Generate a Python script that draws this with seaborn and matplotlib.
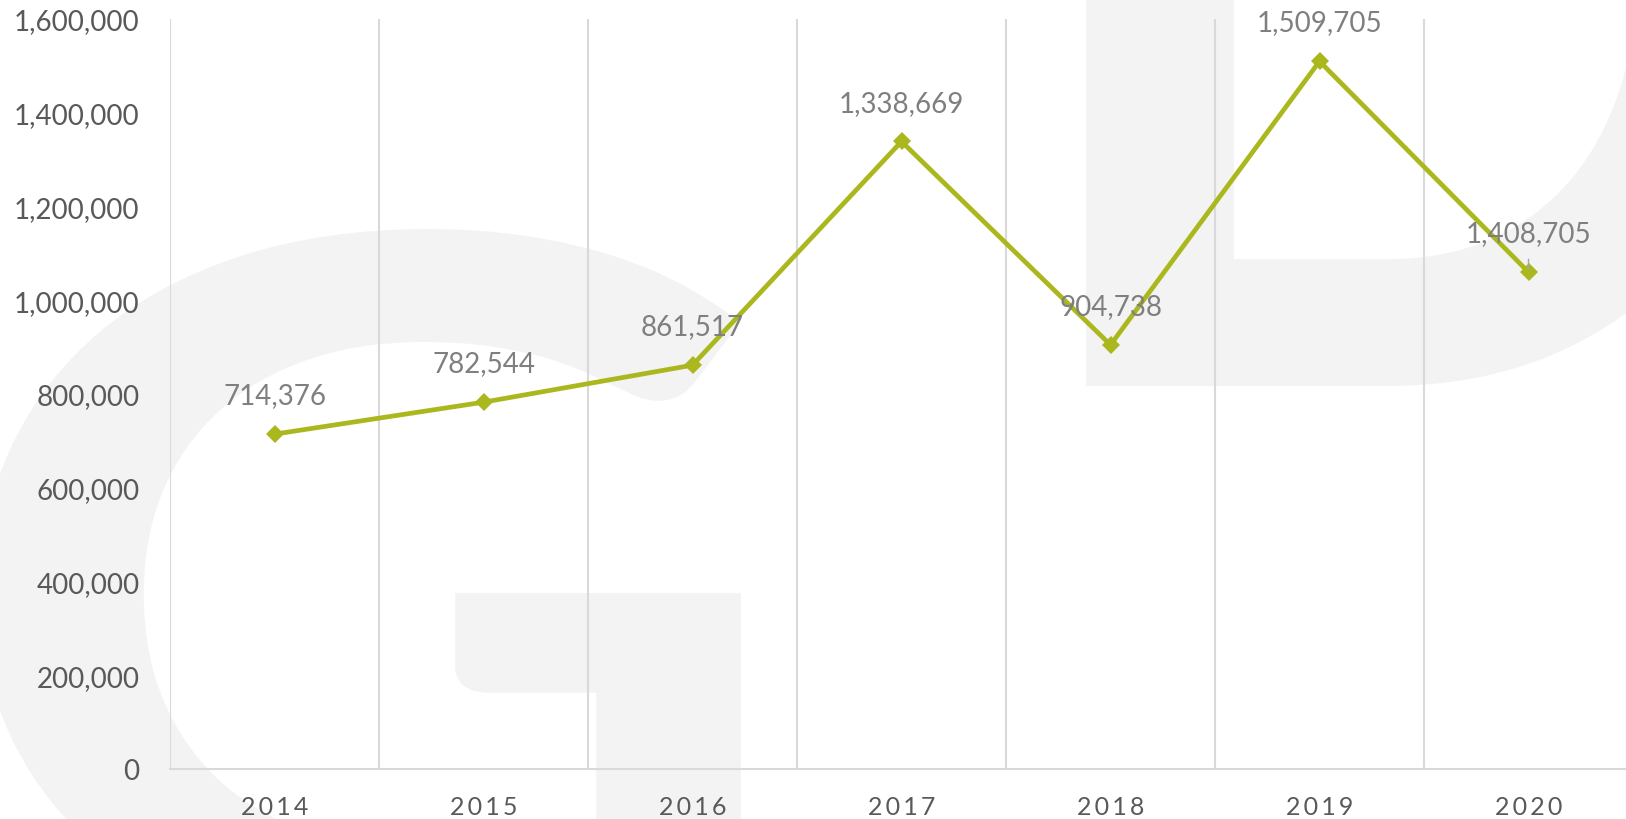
import numpy as np
import pandas as pd
import matplotlib
matplotlib.use("Agg")
import matplotlib.pyplot as plt
import seaborn as sns
from matplotlib.textpath import TextPath
from matplotlib.font_manager import FontProperties
from matplotlib.patches import PathPatch
from matplotlib.transforms import Affine2D
from matplotlib.ticker import FuncFormatter

# Chart data
years = ["2014", "2015", "2016", "2017", "2018", "2019", "2020"]
values = [714376, 782544, 861517, 1338669, 904738, 1509705, 1060000]
labels = ["714,376", "782,544", "861,517", "1,338,669", "904,738", "1,509,705", "1,408,705"]
y_ticks = [0, 200000, 400000, 600000, 800000, 1000000, 1200000, 1400000, 1600000]

LINE_COLOR = "#AAB81E"
GRID_COLOR = "#D9D9D9"
TICK_COLOR = "#595959"
LABEL_COLOR = "#7F7F7F"
MARK_COLOR = "#F3F3F3"

W, H = 1626, 820

sns.set_theme(style="white")
plt.rcParams["font.family"] = ["Lato", "DejaVu Sans"]

fig = plt.figure(figsize=(W / 100, H / 100), dpi=100)
fig.patch.set_facecolor("white")


def add_letter(letter, x0, x1, ytop, ybot):
    # faint background letter, fitted to a box given in pixels
    tp = TextPath((0, 0), letter, size=100, prop=FontProperties(family="Lato", weight="bold"))
    ext = tp.get_extents()
    fx0, fx1 = x0 / W, x1 / W
    fy_top, fy_bot = 1 - ytop / H, 1 - ybot / H
    tr = (Affine2D().translate(-ext.x0, -ext.y0)
          .scale((fx1 - fx0) / ext.width, (fy_top - fy_bot) / ext.height)
          .translate(fx0, fy_bot))
    patch = PathPatch(tr.transform_path(tp), facecolor=MARK_COLOR, edgecolor="none",
                      transform=fig.transFigure, zorder=-1)
    fig.add_artist(patch)


add_letter("G", -20, 741, 230, 960)
add_letter("D", 1086, 1790, -470, 387)

ax = fig.add_axes([170 / W, 50 / H, 1463 / W, 750 / H])
ax.set_facecolor("none")

df = pd.DataFrame({"year": years, "value": values})
sns.lineplot(data=df, x="year", y="value", ax=ax, sort=False, color=LINE_COLOR,
             linewidth=3.4, marker="D", markersize=9, markeredgewidth=0, zorder=3)

ax.set_xlim(-0.5, len(years) - 0.5)
ax.set_ylim(0, 1600000)
ax.set_yticks(y_ticks)
ax.yaxis.set_major_formatter(FuncFormatter(lambda v, p: f"{int(v):,}"))
# spaced-out year labels
ax.set_xticks(range(len(years)))
ax.set_xticklabels(["\u2009".join(y) for y in years])

# vertical gridlines between categories
ax.set_xticks(np.arange(-0.5, len(years), 1), minor=True)
ax.grid(False)
ax.grid(True, which="minor", axis="x", color=GRID_COLOR, linewidth=1.5)
ax.tick_params(which="both", length=0)
ax.tick_params(axis="y", labelsize=20, labelcolor=TICK_COLOR, pad=22)
ax.tick_params(axis="x", labelsize=18, labelcolor=TICK_COLOR, pad=19)

for side in ["top", "right", "left"]:
    ax.spines[side].set_visible(False)
ax.spines["bottom"].set_color(GRID_COLOR)
ax.spines["bottom"].set_linewidth(1.5)
ax.set_xlabel("")
ax.set_ylabel("")

# data labels
for i, (v, lab) in enumerate(zip(values, labels)):
    props = None
    if i == len(values) - 1:
        props = dict(arrowstyle="-", color="#A6A6A6", lw=1, shrinkA=7, shrinkB=2)
    ax.annotate(lab, xy=(i, v), xytext=(0, 28), textcoords="offset points",
                ha="center", va="center", fontsize=20, color=LABEL_COLOR,
                arrowprops=props, zorder=4)

fig.savefig("out.png", dpi=100)
